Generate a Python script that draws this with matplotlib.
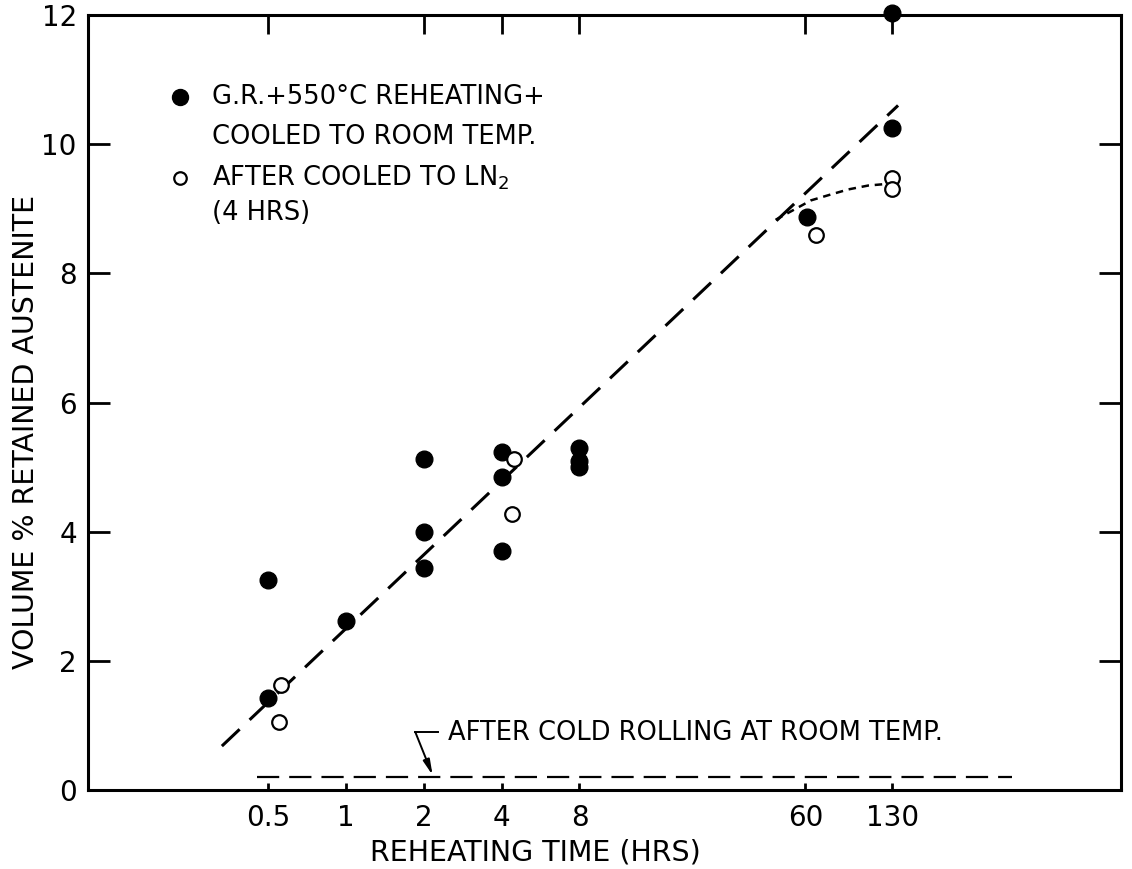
import numpy as np
import matplotlib
matplotlib.use('Agg')
import matplotlib.pyplot as plt

# --- data ---
x_ticks = [0.5, 1, 2, 4, 8, 60, 130]
x_ticklabels = ['0.5', '1', '2', '4', '8', '60', '130']
top_ticks = [0.5, 2, 4, 8, 60, 130]
y_ticks = [0, 2, 4, 6, 8, 10, 12]

# G.R. + 550C reheating + cooled to room temp (filled)
filled_x = [0.5, 0.5, 1, 2, 2, 2, 4, 4, 4, 8, 8, 8, 61, 130, 130]
filled_y = [3.25, 1.42, 2.62, 5.12, 4.0, 3.44, 5.24, 4.84, 3.7, 5.3, 5.1, 5.0, 8.87, 10.25, 12.03]

# after cooled to LN2 (4 hrs) (open)
open_x = [0.56, 0.55, 4.45, 4.4, 66, 130, 130]
open_y = [1.63, 1.05, 5.13, 4.28, 8.6, 9.47, 9.3]

# fitted trend (long dashes)
fit_x = [0.33, 137]
fit_y = [0.68, 10.6]

# LN2 curve (short dashes)
ln2_x = [46, 55, 63, 75, 88, 105, 120]
ln2_y = [8.83, 9.0, 9.13, 9.22, 9.3, 9.36, 9.38]

# after cold rolling level
cr_x = [0.45, 380]
cr_y = [0.2, 0.2]

fig = plt.figure(figsize=(11.32, 8.69), dpi=100)
ax = fig.add_axes([0.0777, 0.0909, 0.9126, 0.8918])

ax.set_xscale('log')
ax.set_xlim(0.1, 1000)
ax.set_ylim(0, 12)

ax.plot(fit_x, fit_y, color='black', lw=2.2, dashes=(8, 4.5), solid_capstyle='butt')
ax.plot(ln2_x, ln2_y, color='black', lw=1.8, dashes=(3, 2.3))
ax.plot(cr_x, cr_y, color='black', lw=1.6, dashes=(10, 4.5))

ax.plot(filled_x, filled_y, 'o', color='black', ms=12, clip_on=False, zorder=5)
ax.plot(open_x, open_y, 'o', mfc='white', mec='black', mew=1.6, ms=10.5, zorder=5)

# cold rolling note with bent arrow
ax.plot([2.26, 1.85], [0.9, 0.9], color='black', lw=1.4)
ax.annotate('', xy=(2.16, 0.23), xytext=(1.85, 0.9),
            arrowprops=dict(arrowstyle='-|>,head_length=0.9,head_width=0.2',
                            color='black', lw=1.4, shrinkA=0, shrinkB=0))
ax.text(2.47, 0.88, 'AFTER COLD ROLLING AT ROOM TEMP.', fontsize=18.5, va='center', ha='left')

# hand-made legend
ax.plot([0.089], [0.894], 'o', color='black', ms=11.5, transform=ax.transAxes)
ax.plot([0.089], [0.790], 'o', mfc='white', mec='black', mew=1.6, ms=9, transform=ax.transAxes)
ax.text(0.120, 0.894, 'G.R.+550°C REHEATING+', fontsize=18.5, va='center', transform=ax.transAxes)
ax.text(0.120, 0.843, 'COOLED TO ROOM TEMP.', fontsize=18.5, va='center', transform=ax.transAxes)
ax.text(0.120, 0.790, 'AFTER COOLED TO LN$_2$', fontsize=18.5, va='center', transform=ax.transAxes)
ax.text(0.120, 0.745, '(4 HRS)', fontsize=18.5, va='center', transform=ax.transAxes)

# axes, ticks
ax.set_xticks(x_ticks)
ax.set_xticklabels(x_ticklabels)
ax.xaxis.set_minor_locator(matplotlib.ticker.NullLocator())
ax.set_yticks(y_ticks)
ax.tick_params(axis='x', direction='in', length=5, width=2, labelsize=20, pad=10)
ax.tick_params(axis='y', direction='in', length=16, width=2, labelsize=20, pad=8,
               left=True, right=True)

top = ax.secondary_xaxis('top')
top.set_xticks(top_ticks)
top.xaxis.set_minor_locator(matplotlib.ticker.NullLocator())
top.tick_params(direction='in', length=14, width=2, labeltop=False)
top.spines['top'].set_visible(False)

for s in ax.spines.values():
    s.set_linewidth(2.2)

ax.set_xlabel('REHEATING TIME (HRS)', fontsize=20.5)
ax.xaxis.set_label_coords(0.433, -0.062)
ax.set_ylabel('VOLUME % RETAINED AUSTENITE', fontsize=20.5)
ax.yaxis.set_label_coords(-0.046, 0.462)

fig.savefig('out.png', dpi=100)
